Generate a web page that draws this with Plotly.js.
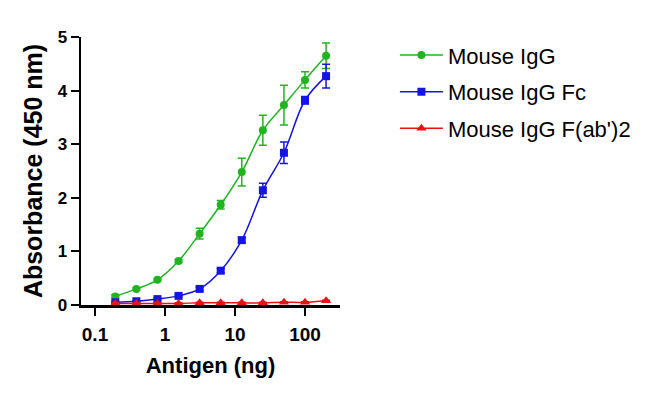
<!DOCTYPE html>
<html>
<head>
<meta charset="utf-8">
<script src="https://cdn.plot.ly/plotly-3.0.1.min.js"></script>
<style>html,body{margin:0;padding:0;background:#fff;}#chart{width:650px;height:396px;}</style>
</head>
<body>
<div id="chart"></div>
<script>
var antigen = [0.195, 0.39, 0.78, 1.5625, 3.125, 6.25, 12.5, 25, 50, 100, 200];
var igg = [0.16, 0.30, 0.47, 0.82, 1.33, 1.87, 2.48, 3.26, 3.73, 4.20, 4.65];
var iggErr = [0.03, 0.02, 0.02, 0.03, 0.10, 0.08, 0.26, 0.28, 0.37, 0.15, 0.24];
var fc = [0.05, 0.07, 0.11, 0.17, 0.30, 0.64, 1.21, 2.14, 2.84, 3.82, 4.27];
var fcErr = [0.01, 0.01, 0.02, 0.02, 0.03, 0.04, 0.05, 0.13, 0.20, 0.07, 0.22];
var fab = [0.03, 0.03, 0.03, 0.03, 0.04, 0.04, 0.04, 0.04, 0.05, 0.05, 0.08];
var fabErr = [0.01, 0.01, 0.01, 0.01, 0.01, 0.01, 0.01, 0.01, 0.01, 0.01, 0.01];
var names = ["Mouse IgG", "Mouse IgG Fc", "Mouse IgG F(ab')2"];
var colors = ["#1fb51f", "#1414e6", "#e61414"];
var symbols = ["circle", "square", "triangle-up"];
var yTicks = [0, 1, 2, 3, 4, 5];
var xTicks = [0.1, 1, 10, 100];
var xTickText = ["0.1", "1", "10", "100"];

var series = [igg, fc, fab];
var errs = [iggErr, fcErr, fabErr];
var traces = series.map(function (ys, i) {
  return {
    type: 'scatter', mode: 'lines+markers', name: names[i],
    x: antigen, y: ys, legendgroup: 'g' + i,
    line: {color: colors[i], width: 1.5, shape: 'spline', smoothing: 1},
    marker: {color: colors[i], symbol: symbols[i], size: i === 2 ? 9 : 8},
    error_y: {type: 'data', array: errs[i], visible: true, color: colors[i], thickness: 1.5, width: 4},
    cliponaxis: false
  };
});

var layout = {
  width: 650, height: 396,
  margin: {l: 81, r: 310, t: 37, b: 91},
  paper_bgcolor: '#fff', plot_bgcolor: '#fff',
  font: {family: 'Liberation Sans, Arial, sans-serif', color: '#000'},
  showlegend: true,
  legend: {x: 1.212, xanchor: 'left', y: 1.01, yanchor: 'top', tracegroupgap: 5, itemwidth: 43,
           font: {size: 22, color: '#000'}, bgcolor: 'rgba(0,0,0,0)'},
  xaxis: {
    type: 'log', range: [-1.2, 2.5],
    tickvals: xTicks, ticktext: xTickText,
    showgrid: false, zeroline: false,
    showline: true, linecolor: '#000', linewidth: 2.5,
    ticks: 'outside', ticklen: 8, tickwidth: 2, tickcolor: '#000',
    ticklabelstandoff: 3,
    tickfont: {size: 19, family: 'Liberation Sans, Arial, sans-serif', weight: 'bold'},
    title: {text: '<b>Antigen (ng)</b>', font: {size: 22}, standoff: 14}
  },
  yaxis: {
    range: [0, 5], tickvals: yTicks,
    showgrid: false, zeroline: false,
    showline: true, linecolor: '#000', linewidth: 2.5,
    ticks: 'outside', ticklen: 8, tickwidth: 2, tickcolor: '#000',
    tickfont: {size: 17, family: 'Liberation Sans, Arial, sans-serif', weight: 'bold'},
    title: {text: '<b>Absorbance (450 nm)</b>', font: {size: 25}, standoff: 8}
  }
};

Plotly.newPlot('chart', traces, layout, {displayModeBar: false, staticPlot: true});
</script>
</body>
</html>
